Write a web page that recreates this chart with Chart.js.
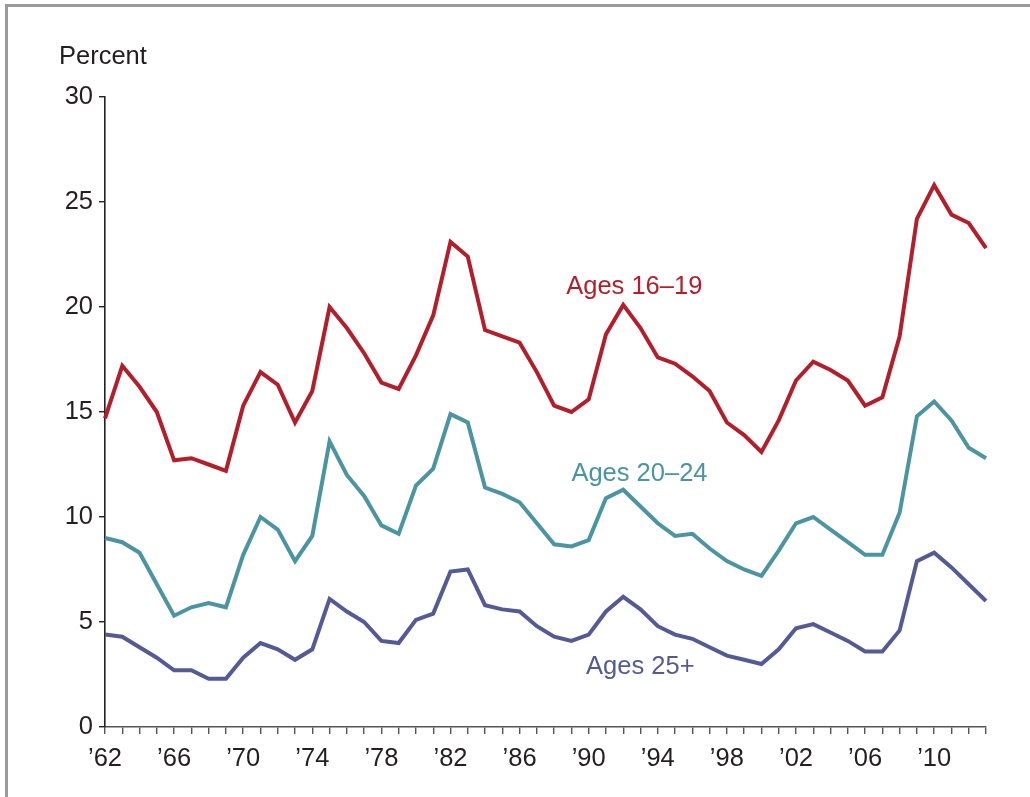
<!DOCTYPE html>
<html>
<head>
<meta charset="utf-8">
<script src="https://cdn.jsdelivr.net/npm/chart.js@4"></script>
<style>
  html, body { margin: 0; padding: 0; background: #fff; }
  #wrap { position: relative; width: 1030px; height: 797px; overflow: hidden; }
  #frame { position: absolute; left: 5px; top: 4px; right: -10px; bottom: -10px;
           border-left: 3px solid #9a9a9a; border-top: 3px solid #9a9a9a; }
  canvas { position: absolute; left: 0; top: 0; }
</style>
</head>
<body>
<div id="wrap">
  <div id="frame"></div>
  <canvas id="chart" width="1030" height="797"></canvas>
</div>
<script>
const years = [1962, 1963, 1964, 1965, 1966, 1967, 1968, 1969, 1970, 1971,
  1972, 1973, 1974, 1975, 1976, 1977, 1978, 1979, 1980, 1981,
  1982, 1983, 1984, 1985, 1986, 1987, 1988, 1989, 1990, 1991,
  1992, 1993, 1994, 1995, 1996, 1997, 1998, 1999, 2000, 2001,
  2002, 2003, 2004, 2005, 2006, 2007, 2008, 2009, 2010, 2011,
  2012, 2013];

// years that get a tick label ('62, '66, ...)
const labelledYears = [1962, 1966, 1970, 1974, 1978, 1982, 1986, 1990, 1994, 1998, 2002, 2006, 2010];

const ages16to19 = [14.7, 17.2, 16.2, 15.0, 12.7, 12.8, 12.5, 12.2, 15.3, 16.9,
  16.3, 14.5, 16.0, 20.0, 19.0, 17.8, 16.4, 16.1, 17.7, 19.6,
  23.1, 22.4, 18.9, 18.6, 18.3, 16.9, 15.3, 15.0, 15.6, 18.7,
  20.1, 19.0, 17.6, 17.3, 16.7, 16.0, 14.5, 13.9, 13.1, 14.6,
  16.5, 17.4, 17.0, 16.5, 15.3, 15.7, 18.6, 24.2, 25.8, 24.4,
  24.0, 22.8];

const ages20to24 = [9.0, 8.8, 8.3, 6.8, 5.3, 5.7, 5.9, 5.7, 8.2, 10.0,
  9.4, 7.9, 9.1, 13.6, 12.0, 11.0, 9.6, 9.2, 11.5, 12.3,
  14.9, 14.5, 11.4, 11.1, 10.7, 9.7, 8.7, 8.6, 8.9, 10.9,
  11.3, 10.5, 9.7, 9.1, 9.2, 8.5, 7.9, 7.5, 7.2, 8.4,
  9.7, 10.0, 9.4, 8.8, 8.2, 8.2, 10.2, 14.8, 15.5, 14.6,
  13.3, 12.8];

const ages25plus = [4.4, 4.3, 3.8, 3.3, 2.7, 2.7, 2.3, 2.3, 3.3, 4.0,
  3.7, 3.2, 3.7, 6.1, 5.5, 5.0, 4.1, 4.0, 5.1, 5.4,
  7.4, 7.5, 5.8, 5.6, 5.5, 4.8, 4.3, 4.1, 4.4, 5.5,
  6.2, 5.6, 4.8, 4.4, 4.2, 3.8, 3.4, 3.2, 3.0, 3.7,
  4.7, 4.9, 4.5, 4.1, 3.6, 3.6, 4.6, 7.9, 8.3, 7.6,
  6.8, 6.0];

const seriesNames = ['Ages 16–19', 'Ages 20–24', 'Ages 25+'];
const seriesColors = ['#b21f2b', '#4b94a1', '#535a95'];
// where the series names sit, in data units (year, percent)
const nameYears = [1988.7, 1989.0, 1989.85];
const nameValues = [20.95, 12.05, 2.86];

const FONT = '"Liberation Sans", Arial, Helvetica, sans-serif';
const TEXT = '#231f20';

const textPlugin = {
  id: 'texts',
  afterDatasetsDraw(chart) {
    const ctx = chart.ctx;
    const x = chart.scales.x, y = chart.scales.y;
    ctx.save();
    ctx.font = '25.5px ' + FONT;
    ctx.textBaseline = 'middle';
    ctx.textAlign = 'left';
    ctx.fillStyle = TEXT;
    ctx.fillText('Percent', chart.chartArea.left - 46, chart.chartArea.top - 40);
    seriesNames.forEach((name, i) => {
      ctx.fillStyle = seriesColors[i];
      ctx.fillText(name, x.getPixelForValue(nameYears[i] - years[0]), y.getPixelForValue(nameValues[i]));
    });
    ctx.restore();
  }
};

const series = [ages16to19, ages20to24, ages25plus];

new Chart(document.getElementById('chart'), {
  type: 'line',
  data: {
    labels: years,
    datasets: series.map((vals, i) => ({
      label: seriesNames[i],
      data: vals,
      borderColor: seriesColors[i],
      borderWidth: 4,
      pointRadius: 0,
      tension: 0,
      fill: false
    }))
  },
  options: {
    responsive: false,
    animation: false,
    devicePixelRatio: 1,
    layout: { padding: { top: 97, right: 44, left: 0, bottom: 0 } },
    plugins: {
      legend: { display: false },
      tooltip: { enabled: false }
    },
    scales: {
      x: {
        type: 'category',
        offset: false,
        afterFit(scale) { scale.height = 70; },
        grid: { display: true, drawOnChartArea: false, drawTicks: true, tickLength: 7, tickColor: '#555', lineWidth: 1.4 },
        border: { display: true, color: '#555', width: 1.6 },
        ticks: {
          autoSkip: false,
          maxRotation: 0,
          padding: 10,
          color: TEXT,
          font: { family: FONT, size: 25.5 },
          callback: function (value) {
            const yr = years[value];
            return labelledYears.includes(yr) ? '’' + String(yr).slice(2) : '';
          }
        }
      },
      y: {
        min: 0,
        max: 30,
        afterFit(scale) { scale.width = 105; },
        grid: { display: true, drawOnChartArea: false, drawTicks: true, tickLength: 6, tickColor: '#222', lineWidth: 1.4 },
        border: { display: true, color: '#222', width: 1.6 },
        ticks: {
          stepSize: 5,
          padding: 6,
          color: TEXT,
          font: { family: FONT, size: 25.5 }
        }
      }
    }
  },
  plugins: [textPlugin]
});
</script>
</body>
</html>
